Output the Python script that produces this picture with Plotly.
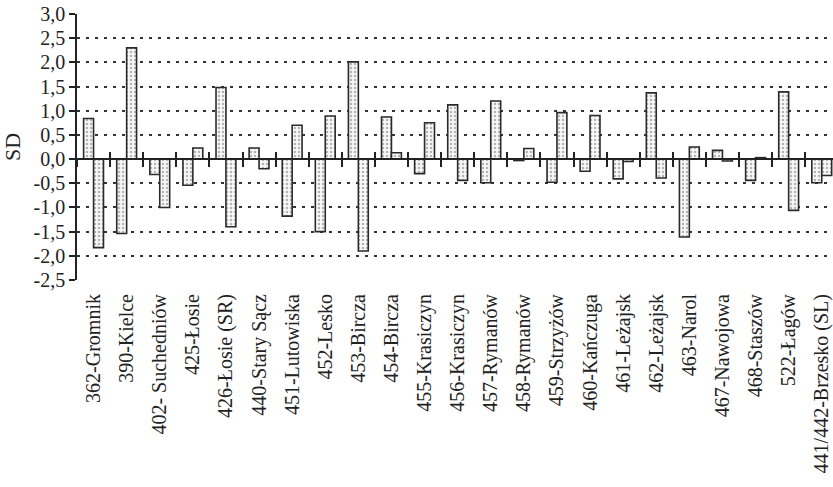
import plotly.graph_objects as go

categories = ["362-Gromnik", "390-Kielce", "402- Suchedniów", "425-Łosie", "426-Łosie (SR)",
              "440-Stary Sącz", "451-Lutowiska", "452-Lesko", "453-Bircza", "454-Bircza",
              "455-Krasiczyn", "456-Krasiczyn", "457-Rymanów", "458-Rymanów", "459-Strzyżów",
              "460-Kańczuga", "461-Leżajsk", "462-Leżajsk", "463-Narol", "467-Nawojowa",
              "468-Staszów", "522-Łagów", "441/442-Brzesko (SL)"]
series_a = [0.84, -1.54, -0.32, -0.54, 1.48, 0.23, -1.18, -1.50, 2.01, 0.87,
            -0.30, 1.12, -0.49, -0.03, -0.48, -0.25, -0.41, 1.37, -1.61, 0.18,
            -0.44, 1.39, -0.49]
series_b = [-1.83, 2.30, -1.00, 0.23, -1.40, -0.20, 0.70, 0.89, -1.90, 0.13,
            0.75, -0.44, 1.20, 0.22, 0.96, 0.90, -0.05, -0.39, 0.25, -0.04,
            0.03, -1.06, -0.34]
ytick_vals = [-2.5, -2.0, -1.5, -1.0, -0.5, 0.0, 0.5, 1.0, 1.5, 2.0, 2.5, 3.0]
ytick_labels = ["-2,5", "-2,0", "-1,5", "-1,0", "-0,5", "0,0", "0,5", "1,0", "1,5", "2,0", "2,5", "3,0"]

FONT = "Liberation Serif"
ymin, ymax = -2.5, 3.0
zero_pos = (0 - ymin) / (ymax - ymin)

pattern = dict(shape=".", fgcolor="#707070", bgcolor="#f8f8f8", size=4, solidity=0.3)

fig = go.Figure()
for vals, off in [(series_a, -0.3), (series_b, 0.0)]:
    fig.add_trace(go.Bar(
        x=categories, y=vals, width=0.3, offset=off,
        marker=dict(color="#f8f8f8", pattern=pattern, line=dict(color="#2a2a2a", width=1.6)),
        showlegend=False, hoverinfo="skip"))

# helper invisible traces so overlay axes at y=0 get categories
for ax in ["x2", "x3"]:
    fig.add_trace(go.Scatter(x=categories, y=[0] * len(categories), xaxis=ax, mode="markers",
                             marker=dict(opacity=0), showlegend=False, hoverinfo="skip"))

xr = [-0.5, 22.34]
fig.update_layout(
    width=833, height=487,
    margin=dict(l=77, r=0, t=14, b=207),
    paper_bgcolor="white", plot_bgcolor="white",
    font=dict(family=FONT, size=20, color="#222222"),
    bargap=0.4,
    xaxis=dict(type="category", range=xr, showline=False, ticks="", tickangle=-90,
               showgrid=False, zeroline=False, tickfont=dict(size=20, family=FONT),
               ticklabelstandoff=9, automargin=False),
    xaxis2=dict(type="category", overlaying="x", anchor="free", position=zero_pos, range=xr,
                matches="x", showline=True, linecolor="#222222", linewidth=1.5,
                ticks="outside", ticklen=7, tickwidth=1.5, tickcolor="#222222",
                tickson="boundaries", showticklabels=False, showgrid=False, zeroline=False,
                automargin=False),
    xaxis3=dict(type="category", overlaying="x", anchor="free", position=zero_pos, range=xr,
                matches="x", showline=False, side="bottom",
                ticks="inside", ticklen=7, tickwidth=1.5, tickcolor="#222222",
                tickson="boundaries", showticklabels=False, showgrid=False, zeroline=False,
                automargin=False),
    yaxis=dict(range=[ymin, ymax], tickvals=ytick_vals, ticktext=ytick_labels,
               showline=True, linecolor="#222222", linewidth=1.5,
               ticks="outside", ticklen=6, tickwidth=1.5, tickcolor="#222222",
               showgrid=True, gridcolor="#333333", gridwidth=1.5, griddash="3px,6px",
               zeroline=False, tickfont=dict(size=20, family=FONT), automargin=False,
               title=dict(text="SD", font=dict(size=22, family=FONT), standoff=8)),
)
fig.write_html("out.html", config={"displayModeBar": False},
               post_script="document.body.style.margin='0';document.body.style.overflow='hidden';")
